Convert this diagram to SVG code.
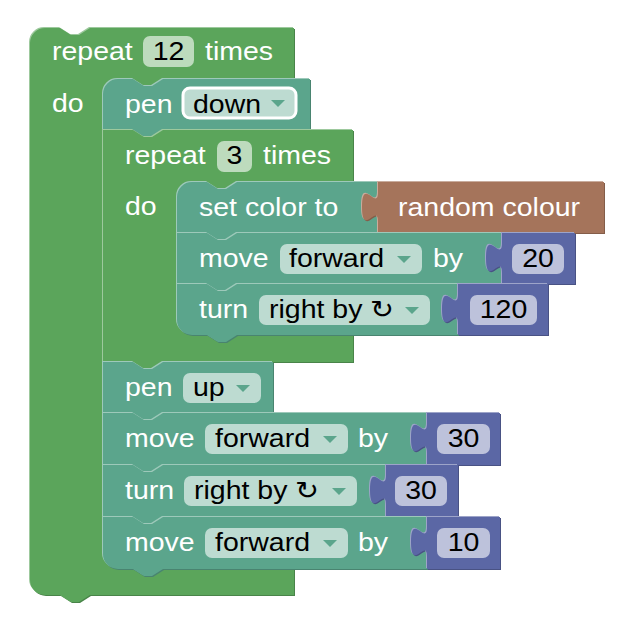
<svg xmlns="http://www.w3.org/2000/svg" xmlns:xlink="http://www.w3.org/1999/xlink" width="642" height="640" viewBox="0 0 642 640">
  <style>
    text { font-family: "Liberation Sans", Arial, "DejaVu Sans", sans-serif; font-size: 25px; fill: #fff;
           transform-box: fill-box; transform-origin: 0 50%; transform: scaleX(1.14); }
    text.v { fill: #000; }
    text.mid { text-anchor: middle; transform-origin: 50% 50%; }
    /* block palettes: body, shadow, highlight, editable field */
    .loop .bd { fill: #5ba55b; } .loop .dk { fill: #498449; } .loop .lt { fill: #9dc99d; } .loop .fld { fill: #bddbbd; }
    .pen .bd { fill: #5ba58c; } .pen .dk { fill: #498470; } .pen .lt { fill: #9dc9ba; } .pen .fld { fill: #bddbd1; }
    .math .bd { fill: #5b67a5; } .math .dk { fill: #495284; } .math .lt { fill: #9da4c9; } .math .fld { fill: #bdc2db; }
    .colour .bd { fill: #a5745b; } .colour .dk { fill: #845d49; } .colour .lt { fill: #c9ac9d; }
    .sel { stroke: #fff; stroke-width: 3; }
    .arr { fill: #5ba58c; }
  </style>
  <defs>
    <path id="s-repeat12" d="M30,43 A15,15 0 0 1 45,28 H60 l11,7 h8 l11,-7 H294 V79 H163 l-11,7 h-8 l-11,-7 H118 A15,15 0 0 0 103,94 V554 A15,15 0 0 0 118,569 H294 V595 H90 l-11,7 h-8 l-11,-7 H45 A15,15 0 0 1 30,580 Z"/>
    <path id="s-pendown" d="M103,94 A15,15 0 0 1 118,79 H133 l11,7 h8 l11,-7 H310 V130 H163 l-11,7 h-8 l-11,-7 H103 Z"/>
    <path id="s-repeat3" d="M103,130 H133 l11,7 h8 l11,-7 H353 V182 H237 l-11,7 h-8 l-11,-7 H192 A15,15 0 0 0 177,197 V320 A15,15 0 0 0 192,335 H353 V362 H163 l-11,7 h-8 l-11,-7 H103 Z"/>
    <path id="s-setcolor" d="M177,197 A15,15 0 0 1 192,182 H207 l11,7 h8 l11,-7 H378 V233 H237 l-11,7 h-8 l-11,-7 H177 Z"/>
    <path id="s-random" d="M378,182 H604 V233 H378 V222 c0,-20 -16,16 -16,-15 s16,5 16,-15 Z"/>
    <path id="s-move20" d="M177,233 H207 l11,7 h8 l11,-7 H502 V284 H237 l-11,7 h-8 l-11,-7 H177 Z"/>
    <path id="s-n20" d="M502,233 H575 V284 H502 V273 c0,-20 -16,16 -16,-15 s16,5 16,-15 Z"/>
    <path id="s-turn120" d="M177,284 H207 l11,7 h8 l11,-7 H458 V335 H237 l-11,7 h-8 l-11,-7 H192 A15,15 0 0 1 177,320 Z"/>
    <path id="s-n120" d="M458,284 H548 V335 H458 V324 c0,-20 -16,16 -16,-15 s16,5 16,-15 Z"/>
    <path id="s-penup" d="M103,362 H133 l11,7 h8 l11,-7 H273 V413 H163 l-11,7 h-8 l-11,-7 H103 Z"/>
    <path id="s-move30" d="M103,413 H133 l11,7 h8 l11,-7 H427 V465 H163 l-11,7 h-8 l-11,-7 H103 Z"/>
    <path id="s-n30a" d="M427,413 H500 V465 H427 V453 c0,-20 -16,16 -16,-15 s16,5 16,-15 Z"/>
    <path id="s-turn30" d="M103,465 H133 l11,7 h8 l11,-7 H386 V517 H163 l-11,7 h-8 l-11,-7 H103 Z"/>
    <path id="s-n30b" d="M386,465 H458 V517 H386 V505 c0,-20 -16,16 -16,-15 s16,5 16,-15 Z"/>
    <path id="s-move10" d="M103,517 H133 l11,7 h8 l11,-7 H427 V569 H163 l-11,7 h-8 l-11,-7 H118 A15,15 0 0 1 103,554 Z"/>
    <path id="s-n10" d="M427,517 H500 V569 H427 V557 c0,-20 -16,16 -16,-15 s16,5 16,-15 Z"/>
  </defs>

  <!-- repeat 12 times -->
  <g id="repeat-12" class="loop">
    <use href="#s-repeat12" class="dk" transform="translate(1,1)"/>
    <use href="#s-repeat12" class="lt" transform="translate(-1,-1)"/>
    <use href="#s-repeat12" class="bd"/>
    <rect class="fld" x="143" y="36" width="51" height="31" rx="7"/>
    <text x="52" y="60">repeat</text>
    <text class="v mid" x="168.5" y="60">12</text>
    <text x="205" y="60">times</text>
    <text x="52" y="112">do</text>
  </g>

  <!-- pen down -->
  <g id="pen-down" class="pen">
    <use href="#s-pendown" class="dk" transform="translate(1,1)"/>
    <use href="#s-pendown" class="lt" transform="translate(-1,-1)"/>
    <use href="#s-pendown" class="bd"/>
    <rect class="fld sel" x="183" y="88" width="113" height="30" rx="7"/>
    <polygon class="arr" points="271,100 285,100 278,107"/>
    <text x="125" y="113">pen</text>
    <text class="v" x="193" y="113">down</text>
  </g>

  <!-- repeat 3 times -->
  <g id="repeat-3" class="loop">
    <use href="#s-repeat3" class="dk" transform="translate(1,1)"/>
    <use href="#s-repeat3" class="lt" transform="translate(-1,-1)"/>
    <use href="#s-repeat3" class="bd"/>
    <rect class="fld" x="217" y="141" width="35" height="31" rx="7"/>
    <text x="125" y="164">repeat</text>
    <text class="v mid" x="234.5" y="164">3</text>
    <text x="263" y="164">times</text>
    <text x="125" y="215">do</text>
  </g>

  <!-- set color to -->
  <g id="set-color" class="pen">
    <use href="#s-setcolor" class="dk" transform="translate(1,1)"/>
    <use href="#s-setcolor" class="lt" transform="translate(-1,-1)"/>
    <use href="#s-setcolor" class="bd"/>
    <text x="199" y="216">set color to</text>
  </g>
  <g id="random-colour" class="colour">
    <use href="#s-random" class="dk" transform="translate(1,1)"/>
    <use href="#s-random" class="lt" transform="translate(-1,-1)"/>
    <use href="#s-random" class="bd"/>
    <text x="398" y="216">random colour</text>
  </g>

  <!-- move forward by 20 -->
  <g id="move-20" class="pen">
    <use href="#s-move20" class="dk" transform="translate(1,1)"/>
    <use href="#s-move20" class="lt" transform="translate(-1,-1)"/>
    <use href="#s-move20" class="bd"/>
    <rect class="fld" x="280" y="244" width="142" height="30" rx="7"/>
    <polygon class="arr" points="397,256 411,256 404,263"/>
    <text x="199" y="267">move</text>
    <text class="v" x="289" y="267">forward</text>
    <text x="433" y="267">by</text>
  </g>
  <g id="num-20" class="math">
    <use href="#s-n20" class="dk" transform="translate(1,1)"/>
    <use href="#s-n20" class="lt" transform="translate(-1,-1)"/>
    <use href="#s-n20" class="bd"/>
    <rect class="fld" x="512" y="244" width="52" height="30" rx="7"/>
    <text class="v mid" x="538" y="267">20</text>
  </g>

  <!-- turn right by 120 -->
  <g id="turn-120" class="pen">
    <use href="#s-turn120" class="dk" transform="translate(1,1)"/>
    <use href="#s-turn120" class="lt" transform="translate(-1,-1)"/>
    <use href="#s-turn120" class="bd"/>
    <rect class="fld" x="259" y="295" width="171" height="30" rx="7"/>
    <polygon class="arr" points="405,307 419,307 412,314"/>
    <text x="199" y="318">turn</text>
    <text class="v" x="269" y="318">right by ↻</text>
  </g>
  <g id="num-120" class="math">
    <use href="#s-n120" class="dk" transform="translate(1,1)"/>
    <use href="#s-n120" class="lt" transform="translate(-1,-1)"/>
    <use href="#s-n120" class="bd"/>
    <rect class="fld" x="470" y="295" width="67" height="30" rx="7"/>
    <text class="v mid" x="503.5" y="318">120</text>
  </g>

  <!-- pen up -->
  <g id="pen-up" class="pen">
    <use href="#s-penup" class="dk" transform="translate(1,1)"/>
    <use href="#s-penup" class="lt" transform="translate(-1,-1)"/>
    <use href="#s-penup" class="bd"/>
    <rect class="fld" x="183" y="373" width="78" height="30" rx="7"/>
    <polygon class="arr" points="236,385 250,385 243,392"/>
    <text x="125" y="396">pen</text>
    <text class="v" x="193" y="396">up</text>
  </g>

  <!-- move forward by 30 -->
  <g id="move-30" class="pen">
    <use href="#s-move30" class="dk" transform="translate(1,1)"/>
    <use href="#s-move30" class="lt" transform="translate(-1,-1)"/>
    <use href="#s-move30" class="bd"/>
    <rect class="fld" x="205" y="424" width="143" height="30" rx="7"/>
    <polygon class="arr" points="323,436 337,436 330,443"/>
    <text x="125" y="447">move</text>
    <text class="v" x="215" y="447">forward</text>
    <text x="358" y="447">by</text>
  </g>
  <g id="num-30a" class="math">
    <use href="#s-n30a" class="dk" transform="translate(1,1)"/>
    <use href="#s-n30a" class="lt" transform="translate(-1,-1)"/>
    <use href="#s-n30a" class="bd"/>
    <rect class="fld" x="437" y="424" width="53" height="30" rx="7"/>
    <text class="v mid" x="463.5" y="447">30</text>
  </g>

  <!-- turn right by 30 -->
  <g id="turn-30" class="pen">
    <use href="#s-turn30" class="dk" transform="translate(1,1)"/>
    <use href="#s-turn30" class="lt" transform="translate(-1,-1)"/>
    <use href="#s-turn30" class="bd"/>
    <rect class="fld" x="184" y="476" width="173" height="30" rx="7"/>
    <polygon class="arr" points="332,488 346,488 339,495"/>
    <text x="125" y="499">turn</text>
    <text class="v" x="194" y="499">right by ↻</text>
  </g>
  <g id="num-30b" class="math">
    <use href="#s-n30b" class="dk" transform="translate(1,1)"/>
    <use href="#s-n30b" class="lt" transform="translate(-1,-1)"/>
    <use href="#s-n30b" class="bd"/>
    <rect class="fld" x="395" y="476" width="52" height="30" rx="7"/>
    <text class="v mid" x="421" y="499">30</text>
  </g>

  <!-- move forward by 10 -->
  <g id="move-10" class="pen">
    <use href="#s-move10" class="dk" transform="translate(1,1)"/>
    <use href="#s-move10" class="lt" transform="translate(-1,-1)"/>
    <use href="#s-move10" class="bd"/>
    <rect class="fld" x="205" y="528" width="143" height="30" rx="7"/>
    <polygon class="arr" points="323,540 337,540 330,547"/>
    <text x="125" y="551">move</text>
    <text class="v" x="215" y="551">forward</text>
    <text x="358" y="551">by</text>
  </g>
  <g id="num-10" class="math">
    <use href="#s-n10" class="dk" transform="translate(1,1)"/>
    <use href="#s-n10" class="lt" transform="translate(-1,-1)"/>
    <use href="#s-n10" class="bd"/>
    <rect class="fld" x="437" y="528" width="53" height="30" rx="7"/>
    <text class="v mid" x="463.5" y="551">10</text>
  </g>
</svg>
